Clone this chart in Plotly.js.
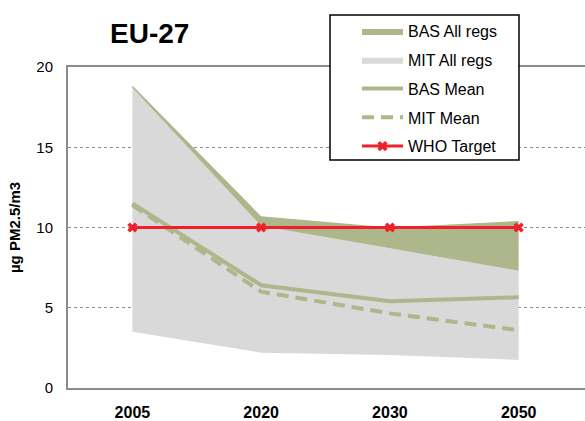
<!DOCTYPE html>
<html>
<head>
<meta charset="utf-8">
<script src="https://cdn.plot.ly/plotly-3.0.1.min.js"></script>
<style>html,body{margin:0;padding:0;background:#fff;overflow:hidden;}</style>
</head>
<body>
<div id="chart" style="width:585px;height:421px;"></div>
<script>
var years = ["2005", "2020", "2030", "2050"];
var mitLow = [3.5, 2.2, 2.05, 1.75];
var mitHigh = [18.7, 10.1, 8.7, 7.3];
var basHigh = [18.85, 10.7, 10.0, 10.4];
var basMean = [11.5, 6.4, 5.4, 5.65];
var mitMean = [11.4, 6.0, 4.65, 3.6];
var whoTarget = [10, 10, 10, 10];
var yTicks = [0, 5, 10, 15, 20];

var green = "#adb78b";
var gray = "#d9d9d9";
var red = "#f0202a";

var traces = [
  {x: years, y: mitLow, type: "scatter", mode: "lines", line: {width: 0, color: gray},
   showlegend: false, hoverinfo: "skip"},
  {x: years, y: mitHigh, type: "scatter", mode: "lines", name: "MIT All regs", fill: "tonexty",
   fillcolor: gray, line: {width: 0, color: gray}, legendrank: 2, legendgroup: "b"},
  {x: years, y: basHigh, type: "scatter", mode: "lines", name: "BAS All regs", fill: "tonexty",
   fillcolor: green, line: {width: 0, color: green}, legendrank: 1, legendgroup: "a"},
  {x: years, y: basMean, type: "scatter", mode: "lines", name: "BAS Mean",
   line: {width: 4, color: green}, legendrank: 3, legendgroup: "c"},
  {x: years, y: mitMean, type: "scatter", mode: "lines", name: "MIT Mean",
   line: {width: 4, color: green, dash: "12px,7px"}, legendrank: 4, legendgroup: "d"},
  {x: years, y: whoTarget, type: "scatter", mode: "lines+markers", name: "WHO Target",
   line: {width: 3, color: red}, marker: {symbol: "x", size: 9, color: red},
   legendrank: 5, legendgroup: "e"}
];

var layout = {
  width: 585, height: 421,
  margin: {l: 68, r: 0, t: 67, b: 33},
  paper_bgcolor: "#ffffff", plot_bgcolor: "#ffffff",
  font: {family: "Liberation Sans, Arial, sans-serif", color: "#000"},
  title: {text: "<b>EU-27</b>", font: {size: 28, color: "#000"},
          x: 110/585, xref: "container", xanchor: "left",
          y: 1 - 33/421, yref: "container", yanchor: "middle"},
  xaxis: {type: "category", range: [-0.5, 3.515], showgrid: false, zeroline: false,
          showline: true, mirror: true, linecolor: "#8c8c8c", linewidth: 2,
          ticks: "", tickfont: {size: 16, color: "#000", weight: "bold"},
          ticklabelstandoff: 9, fixedrange: true},
  yaxis: {range: [0, 20], tickvals: yTicks, showgrid: true, gridcolor: "#8c8c8c",
          griddash: "dot", gridwidth: 1, zeroline: false,
          showline: true, linecolor: "#8c8c8c", linewidth: 2,
          ticks: "", tickfont: {size: 15, color: "#000"}, ticklabelstandoff: 10,
          title: {text: "<b>µg PM2.5/m3</b>", font: {size: 15, color: "#000"}, standoff: 12},
          fixedrange: true},
  shapes: [
    {type: "rect", xref: "paper", yref: "paper", layer: "above",
     x0: (330-68)/517, x1: (519-68)/517, y0: (388-160)/321, y1: (388-15)/321,
     fillcolor: "#ffffff", line: {color: "#000", width: 1.5}}
  ],
  legend: {x: (357-68)/517, xanchor: "left", y: (388-14)/321, yanchor: "top",
           bgcolor: "rgba(0,0,0,0)", borderwidth: 0, tracegroupgap: 5,
           font: {size: 16, color: "#000"}, itemwidth: 41, traceorder: "grouped"},
  showlegend: true
};

Plotly.newPlot("chart", traces, layout, {displayModeBar: false, staticPlot: true});
</script>
</body>
</html>
